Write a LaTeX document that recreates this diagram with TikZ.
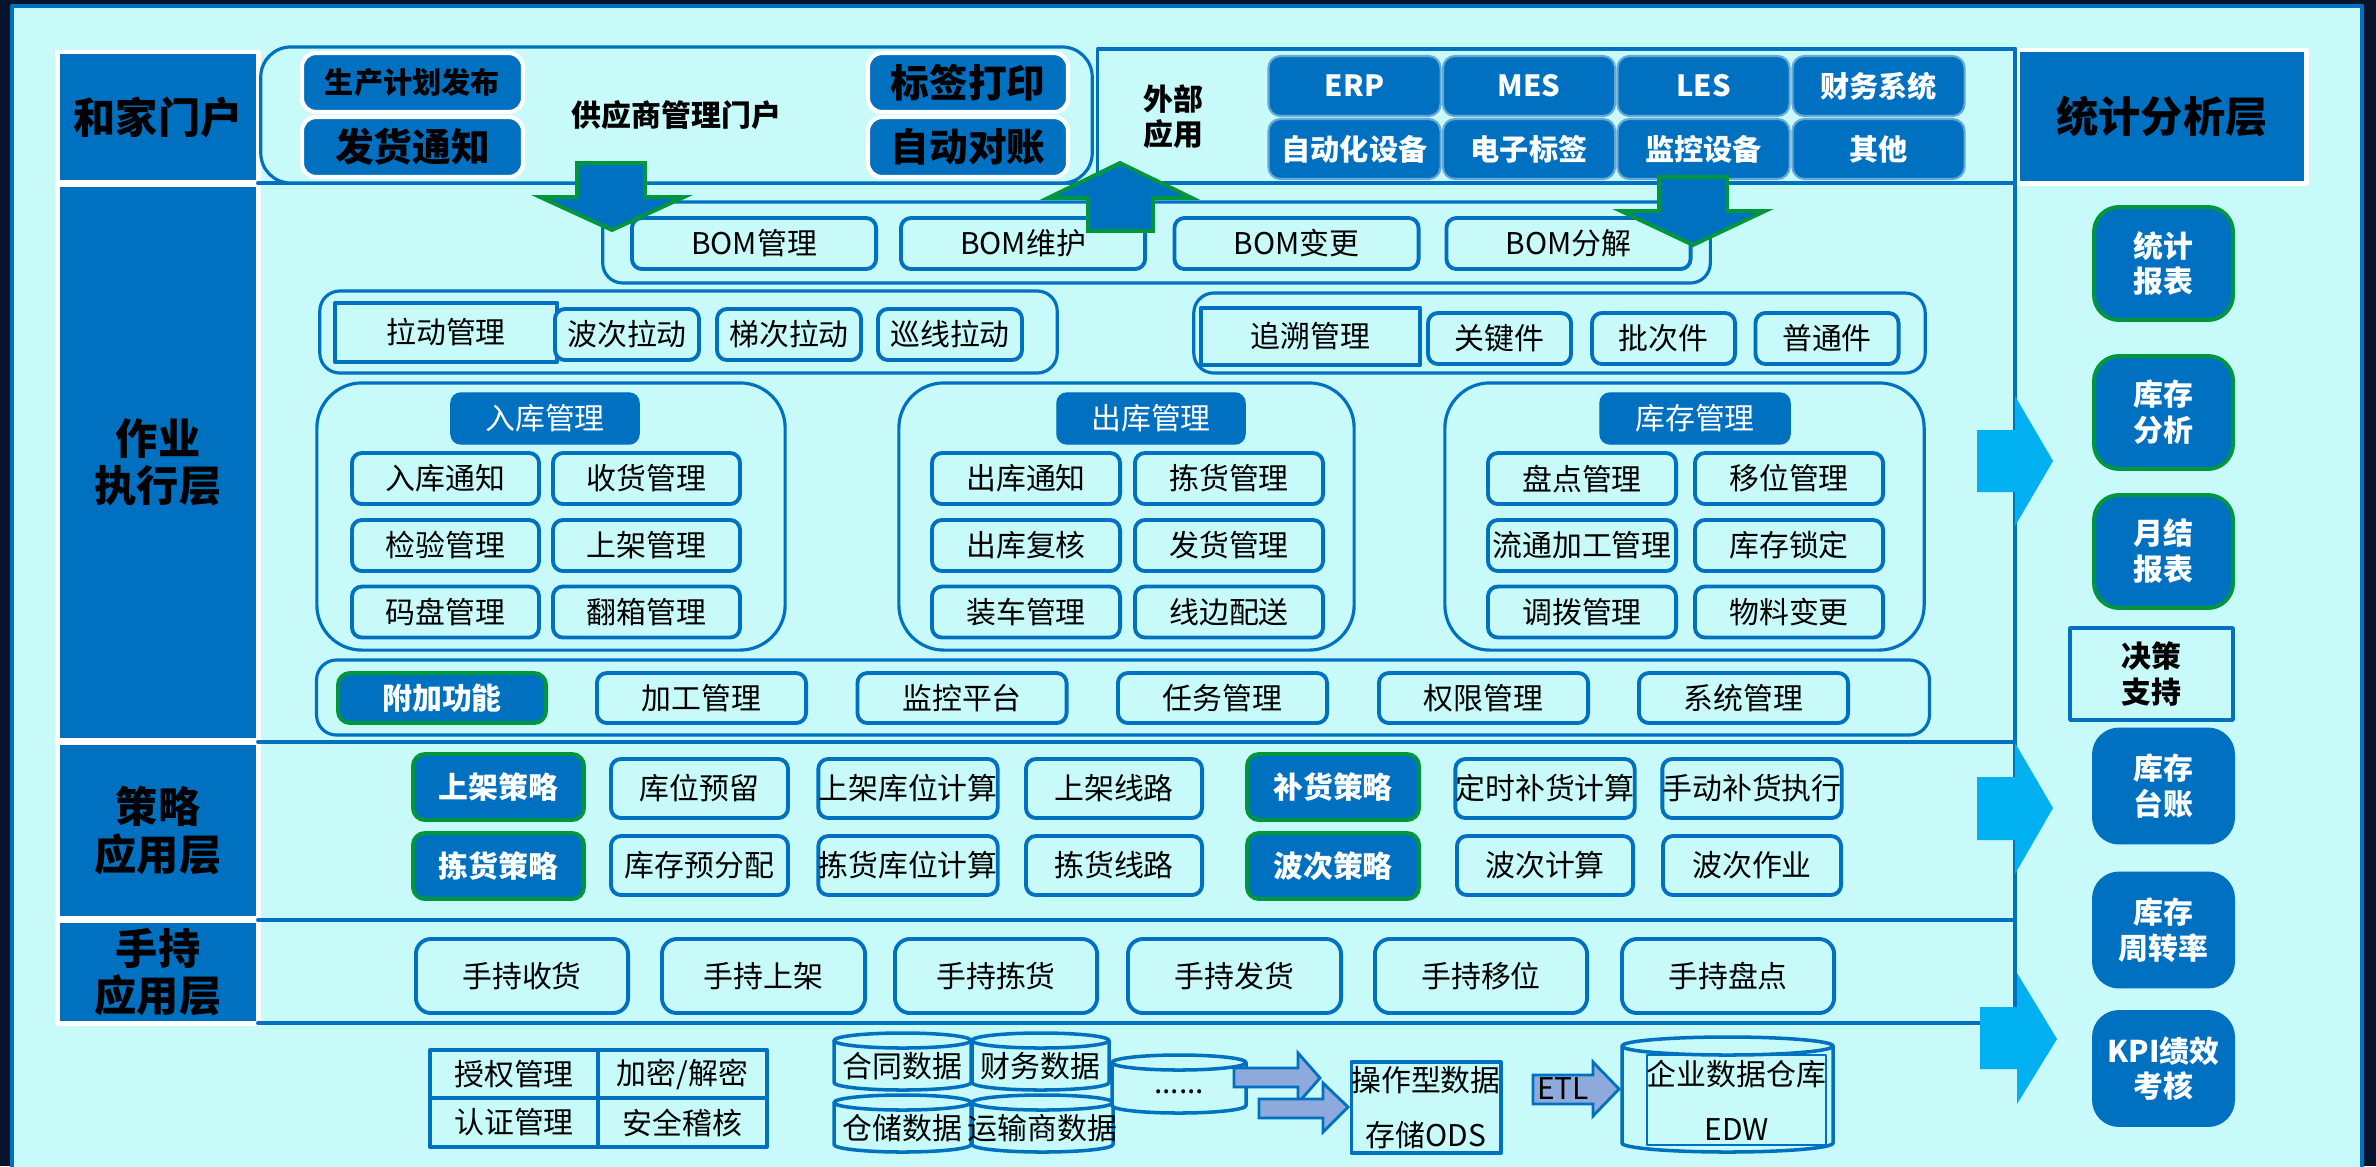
\documentclass[tikz,border=0pt]{standalone}
\usepackage{fontspec}
\setmainfont{Noto Sans CJK SC}
\usepackage{tikz}
\usetikzlibrary{arrows.meta}
\definecolor{panelcyan}{RGB}{200,250,250}
\definecolor{deepblue}{RGB}{0,112,192}
\definecolor{leafgreen}{RGB}{0,150,60}
\definecolor{skyblue}{RGB}{0,176,240}
\definecolor{lilac}{RGB}{142,170,220}
\definecolor{nightbg}{RGB}{8,20,44}

\begin{document}
\begin{tikzpicture}[line cap=round,line join=round,x=0.01cm,y=-0.01cm,
    layerbox/.style={fill=deepblue,draw=white,line width=1.4pt,inner sep=0pt,align=center,font=\fontsize{12}{13.4}\selectfont\bfseries},
    portbtn/.style={fill=deepblue,draw=white,line width=1.2pt,rounded corners=0.14cm,inner sep=0pt},
    extbtn/.style={fill=deepblue,draw=deepblue!60!white,line width=0.6pt,rounded corners=0.12cm,inner sep=0pt,minimum width=1.72cm,minimum height=0.6cm,text=white,font=\fontsize{8.3}{10}\selectfont\bfseries},
    grpbox/.style={draw=deepblue,line width=0.9pt,fill=panelcyan,inner sep=0pt},
    itembox/.style={draw=deepblue,line width=1.1pt,fill=panelcyan,rounded corners=0.1cm,inner sep=0pt,font=\fontsize{8.5}{10}\selectfont},
    hdrbox/.style={fill=deepblue,draw=deepblue,rounded corners=0.1cm,inner sep=0pt,minimum height=0.51cm,text=white,font=\fontsize{8.5}{10}\selectfont},
    keybox/.style={fill=deepblue,draw=leafgreen,line width=1.1pt,rounded corners=0.12cm,inner sep=0pt,text=white,font=\fontsize{8.5}{10}\selectfont\bfseries},
    rptbox/.style={fill=deepblue,line width=1.1pt,rounded corners=0.25cm,inner sep=0pt,align=center,minimum width=1.39cm,minimum height=1.13cm,text=white,font=\fontsize{8.5}{10.2}\selectfont\bfseries},
    secbox/.style={draw=deepblue,line width=1.1pt,fill=panelcyan,inner sep=0pt,font=\fontsize{8.5}{10}\selectfont},
    sepline/.style={draw=deepblue,line width=1.1pt},
    greenarrow/.style={fill=deepblue,draw=leafgreen,line width=1.1pt,line join=miter},
    cylbody/.style={draw=deepblue,line width=1pt,fill=panelcyan},
    flowarrow/.style={fill=lilac,draw=deepblue,line width=0.8pt,line join=miter}]
    \useasboundingbox (0,0) rectangle (2376,1166);
    \fill [nightbg] (0,0) rectangle (2376,1166);
    \draw [draw=deepblue,line width=1.2pt,fill=panelcyan] (12,6) rectangle (2362,1180);
    % layers
    \node[layerbox,minimum width=2cm,minimum height=1.3cm] (homeportal) at (158,117) {和家门户};
    \node[layerbox,minimum width=2cm,minimum height=5.55cm] (execlayer) at (158,462.5) {作业\\执行层};
    \node[layerbox,minimum width=2cm,minimum height=1.75cm] (stratlayer) at (158,830.5) {策略\\应用层};
    \node[layerbox,minimum width=2cm,minimum height=1.02cm] (handlayer) at (158,972) {手持\\应用层};
    \node[layerbox,minimum width=2.88cm,minimum height=1.33cm] (statlayer) at (2162,116.5) {统计分析层};
    \draw [sepline] (258,183) -- (2015,183);
    \draw [sepline] (258,742) -- (2015,742);
    \draw [sepline] (258,920) -- (2015,920);
    \draw [sepline] (258,1023) -- (2015,1023);
    \draw [sepline] (2015,49) -- (2015,1023);
    % portal row
    \node[grpbox,rounded corners=0.3cm,minimum width=8.31cm,minimum height=1.36cm,font=\fontsize{8.5}{10}\selectfont\bfseries] (supplier) at (676.5,115) {供应商管理门户};
    \node[portbtn,minimum width=2.21cm,minimum height=0.59cm,font=\fontsize{8.3}{10}\selectfont\bfseries] (planpub) at (412.5,82.5) {生产计划发布};
    \node[portbtn,minimum width=2.21cm,minimum height=0.6cm,font=\fontsize{11}{12}\selectfont\bfseries] (shipnote) at (412.5,147) {发货通知};
    \node[portbtn,minimum width=2cm,minimum height=0.59cm,font=\fontsize{11}{12}\selectfont\bfseries] (labelprint) at (968,82.5) {标签打印};
    \node[portbtn,minimum width=2cm,minimum height=0.6cm,font=\fontsize{11}{12}\selectfont\bfseries] (autorecon) at (968,147) {自动对账};
    \node[draw=deepblue,line width=0.9pt,minimum width=9.17cm,minimum height=1.34cm,inner sep=0pt] (extsys) at (1556.5,116) {};
    \node[align=center,font=\fontsize{8.5}{10}\selectfont\bfseries] (extlbl) at (1173,117) {外部\\应用};
    \node[extbtn] (erp) at (1354.5,86) {ERP};
    \node[extbtn] (mes) at (1529,86) {MES};
    \node[extbtn] (les) at (1703.5,86) {LES};
    \node[extbtn] (finsys) at (1878.5,86) {财务系统};
    \node[extbtn] (autodev) at (1354.5,149) {自动化设备};
    \node[extbtn] (elabel) at (1529,149) {电子标签};
    \node[extbtn] (monidev) at (1703.5,149) {监控设备};
    \node[extbtn] (others) at (1878.5,149) {其他};
    % BOM
    \node[grpbox,rounded corners=0.2cm,minimum width=11.07cm,minimum height=0.81cm] (bomgrp) at (1156.5,242.5) {};
    \node[itembox,minimum width=2.44cm,minimum height=0.51cm] (bommgmt) at (754,243.5) {BOM管理};
    \node[itembox,minimum width=2.44cm,minimum height=0.51cm] (bomkeep) at (1023,243.5) {BOM维护};
    \node[itembox,minimum width=2.44cm,minimum height=0.51cm] (bomchange) at (1296.5,243.5) {BOM变更};
    \node[itembox,minimum width=2.44cm,minimum height=0.51cm] (bomsplit) at (1568.5,243.5) {BOM分解};
    % pull and trace
    \node[grpbox,rounded corners=0.2cm,minimum width=7.37cm,minimum height=0.82cm] (pullgrp) at (688.5,332) {};
    \node[itembox,rounded corners=0pt,minimum width=2.22cm,minimum height=0.59cm] (pullmgmt) at (446,332.5) {拉动管理};
    \node[itembox,minimum width=1.44cm,minimum height=0.51cm] (wavepull) at (627,334.5) {波次拉动};
    \node[itembox,minimum width=1.44cm,minimum height=0.51cm] (steppull) at (789,334.5) {梯次拉动};
    \node[itembox,minimum width=1.44cm,minimum height=0.51cm] (routepull) at (950,334.5) {巡线拉动};
    \node[grpbox,rounded corners=0.2cm,minimum width=7.31cm,minimum height=0.8cm] (tracegrp) at (1559.5,333) {};
    \node[itembox,rounded corners=0pt,minimum width=2.19cm,minimum height=0.57cm] (tracemgmt) at (1310.5,336.5) {追溯管理};
    \node[itembox,minimum width=1.43cm,minimum height=0.51cm] (keypart) at (1499.5,338.5) {关键件};
    \node[itembox,minimum width=1.43cm,minimum height=0.51cm] (batchpart) at (1663.5,338.5) {批次件};
    \node[itembox,minimum width=1.43cm,minimum height=0.51cm] (commonpart) at (1827,338.5) {普通件};
    % inbound, outbound, stock
    \node[grpbox,rounded corners=0.45cm,minimum width=4.68cm,minimum height=2.67cm] (ingrp) at (551,516.5) {};
    \node[grpbox,rounded corners=0.45cm,minimum width=4.55cm,minimum height=2.67cm] (outgrp) at (1126.5,516.5) {};
    \node[grpbox,rounded corners=0.45cm,minimum width=4.79cm,minimum height=2.67cm] (stockgrp) at (1684.5,516.5) {};
    \node[hdrbox,minimum width=1.88cm] (inhdr) at (545,418.5) {入库管理};
    \node[hdrbox,minimum width=1.88cm] (outhdr) at (1151,418.5) {出库管理};
    \node[hdrbox,minimum width=1.9cm] (stockhdr) at (1695,418.5) {库存管理};
    \node[itembox,minimum width=1.87cm,minimum height=0.51cm] (innote) at (445.5,478.5) {入库通知};
    \node[itembox,minimum width=1.87cm,minimum height=0.51cm] (receive) at (646.5,478.5) {收货管理};
    \node[itembox,minimum width=1.87cm,minimum height=0.51cm] (inspect) at (445.5,545.5) {检验管理};
    \node[itembox,minimum width=1.87cm,minimum height=0.51cm] (putaway) at (646.5,545.5) {上架管理};
    \node[itembox,minimum width=1.87cm,minimum height=0.51cm] (pallet) at (445.5,612) {码盘管理};
    \node[itembox,minimum width=1.87cm,minimum height=0.51cm] (rebox) at (646.5,612) {翻箱管理};
    \node[itembox,minimum width=1.88cm,minimum height=0.51cm] (outnote) at (1026,478.5) {出库通知};
    \node[itembox,minimum width=1.88cm,minimum height=0.51cm] (picking) at (1229,478.5) {拣货管理};
    \node[itembox,minimum width=1.88cm,minimum height=0.51cm] (recheck) at (1026,545.5) {出库复核};
    \node[itembox,minimum width=1.88cm,minimum height=0.51cm] (shipping) at (1229,545.5) {发货管理};
    \node[itembox,minimum width=1.88cm,minimum height=0.51cm] (loading) at (1026,612) {装车管理};
    \node[itembox,minimum width=1.88cm,minimum height=0.51cm] (lineside) at (1229,612) {线边配送};
    \node[itembox,minimum width=1.88cm,minimum height=0.51cm] (counting) at (1582,478.5) {盘点管理};
    \node[itembox,minimum width=1.88cm,minimum height=0.51cm] (moving) at (1789,478.5) {移位管理};
    \node[itembox,minimum width=1.88cm,minimum height=0.51cm] (processing) at (1582,545.5) {流通加工管理};
    \node[itembox,minimum width=1.88cm,minimum height=0.51cm] (stocklock) at (1789,545.5) {库存锁定};
    \node[itembox,minimum width=1.88cm,minimum height=0.51cm] (transfer) at (1582,612) {调拨管理};
    \node[itembox,minimum width=1.88cm,minimum height=0.51cm] (matchange) at (1789,612) {物料变更};
    % extra functions
    \node[grpbox,rounded corners=0.2cm,minimum width=16.12cm,minimum height=0.75cm] (extragrp) at (1123,697.5) {};
    \node[keybox,minimum width=2.08cm,minimum height=0.5cm] (extrafn) at (442,698) {附加功能};
    \node[itembox,minimum width=2.09cm,minimum height=0.5cm] (procmgmt) at (701.5,698) {加工管理};
    \node[itembox,minimum width=2.09cm,minimum height=0.5cm] (monitor) at (962,698) {监控平台};
    \node[itembox,minimum width=2.09cm,minimum height=0.5cm] (taskmgmt) at (1222.5,698) {任务管理};
    \node[itembox,minimum width=2.09cm,minimum height=0.5cm] (rightmgmt) at (1483.5,698) {权限管理};
    \node[itembox,minimum width=2.09cm,minimum height=0.5cm] (sysmgmt) at (1743.5,698) {系统管理};
    % strategies
    \node[keybox,minimum width=1.71cm,minimum height=0.66cm] (putstrat) at (498.5,787) {上架策略};
    \node[keybox,minimum width=1.71cm,minimum height=0.66cm] (pickstrat) at (498.5,866) {拣货策略};
    \node[keybox,minimum width=1.72cm,minimum height=0.66cm] (fillstrat) at (1333,787) {补货策略};
    \node[keybox,minimum width=1.72cm,minimum height=0.66cm] (wavestrat) at (1333,866) {波次策略};
    \node[itembox,minimum width=1.77cm,minimum height=0.59cm] (reserve) at (699.5,788.5) {库位预留};
    \node[itembox,minimum width=1.78cm,minimum height=0.59cm] (putcalc) at (908,788.5) {上架库位计算};
    \node[itembox,minimum width=1.76cm,minimum height=0.59cm] (putroute) at (1114,788.5) {上架线路};
    \node[itembox,minimum width=1.76cm,minimum height=0.59cm] (timedfill) at (1545,788.5) {定时补货计算};
    \node[itembox,minimum width=1.78cm,minimum height=0.59cm] (manualfill) at (1752,788.5) {手动补货执行};
    \node[itembox,minimum width=1.77cm,minimum height=0.59cm] (prealloc) at (699.5,865.5) {库存预分配};
    \node[itembox,minimum width=1.78cm,minimum height=0.59cm] (pickcalc) at (908,865.5) {拣货库位计算};
    \node[itembox,minimum width=1.76cm,minimum height=0.59cm] (pickroute) at (1114,865.5) {拣货线路};
    \node[itembox,minimum width=1.76cm,minimum height=0.59cm] (wavecalc) at (1545,865.5) {波次计算};
    \node[itembox,minimum width=1.78cm,minimum height=0.59cm] (wavejob) at (1752,865.5) {波次作业};
    % handheld
    \node[itembox,rounded corners=0.15cm,minimum width=2.12cm,minimum height=0.74cm] (hhreceive) at (522,976) {手持收货};
    \node[itembox,rounded corners=0.15cm,minimum width=2.03cm,minimum height=0.74cm] (hhputaway) at (763.5,976) {手持上架};
    \node[itembox,rounded corners=0.15cm,minimum width=2.02cm,minimum height=0.74cm] (hhpick) at (996,976) {手持拣货};
    \node[itembox,rounded corners=0.15cm,minimum width=2.13cm,minimum height=0.74cm] (hhship) at (1234.5,976) {手持发货};
    \node[itembox,rounded corners=0.15cm,minimum width=2.12cm,minimum height=0.74cm] (hhmove) at (1481,976) {手持移位};
    \node[itembox,rounded corners=0.15cm,minimum width=2.12cm,minimum height=0.74cm] (hhcount) at (1728,976) {手持盘点};
    % statistics column
    \node[rptbox,draw=leafgreen] (statrpt) at (2163.5,263.5) {统计\\报表};
    \node[rptbox,draw=leafgreen] (stockana) at (2163.5,412.5) {库存\\分析};
    \node[rptbox,draw=leafgreen] (monthrpt) at (2163.5,551.5) {月结\\报表};
    \node[draw=deepblue,line width=1pt,fill=panelcyan,inner sep=0pt,minimum width=1.63cm,minimum height=0.92cm,align=center,font=\fontsize{8.5}{10.2}\selectfont\bfseries] (decision) at (2151.5,674) {决策\\支持};
    \node[rptbox,draw=deepblue] (ledger) at (2163.5,786) {库存\\台账};
    \node[rptbox,draw=deepblue] (turnover) at (2163.5,930) {库存\\周转率};
    \node[rptbox,draw=deepblue] (kpi) at (2163.5,1068.5) {KPI绩效\\考核};
    \fill [skyblue] (1977,430) -- (2015,430) -- (2015,396) -- (2053,461) -- (2015,526) -- (2015,492) -- (1977,492) -- cycle;
    \fill [skyblue] (1977,777) -- (2015,777) -- (2015,743) -- (2053,808) -- (2015,874) -- (2015,840) -- (1977,840) -- cycle;
    \fill [skyblue] (1980,1007) -- (2017,1007) -- (2017,973) -- (2057,1039) -- (2017,1104) -- (2017,1069) -- (1980,1069) -- cycle;
    % big arrows between portal and BOM
    \draw [greenarrow] (577,163) -- (645,163) -- (645,197) -- (684,197) -- (612,230) -- (540,197) -- (577,197) -- cycle;
    \draw [greenarrow] (1120,163) -- (1192,198) -- (1153,198) -- (1153,231) -- (1088,231) -- (1088,198) -- (1048,198) -- cycle;
    \draw [greenarrow] (1659,177) -- (1727,177) -- (1727,211) -- (1765,211) -- (1693,245) -- (1621,211) -- (1659,211) -- cycle;
    % security
    \node[secbox,minimum width=1.68cm,minimum height=0.48cm] (authorize) at (514,1074) {授权管理};
    \node[secbox,minimum width=1.69cm,minimum height=0.48cm] (crypto) at (682.5,1074) {加密/解密};
    \node[secbox,minimum width=1.68cm,minimum height=0.49cm] (authen) at (514,1122.5) {认证管理};
    \node[secbox,minimum width=1.69cm,minimum height=0.49cm] (audit) at (682.5,1122.5) {安全稽核};
    % data sources
    \draw [cylbody] (834,1040.5) -- (834,1082.5) arc [start angle=180,end angle=0,x radius=68.5,y radius=7.5] -- (971,1040.5) -- cycle;
    \draw [cylbody] (902.5,1040.5) ellipse [x radius=68.5,y radius=7.5];
    \draw [cylbody] (972,1040.5) -- (972,1082.5) arc [start angle=180,end angle=0,x radius=68.5,y radius=7.5] -- (1109,1040.5) -- cycle;
    \draw [cylbody] (1040.5,1040.5) ellipse [x radius=68.5,y radius=7.5];
    \draw [cylbody] (834,1102.5) -- (834,1144.5) arc [start angle=180,end angle=0,x radius=68.5,y radius=7.5] -- (971,1102.5) -- cycle;
    \draw [cylbody] (902.5,1102.5) ellipse [x radius=68.5,y radius=7.5];
    \draw [cylbody] (972,1102.5) -- (972,1144.5) arc [start angle=180,end angle=0,x radius=70.5,y radius=7.5] -- (1113,1102.5) -- cycle;
    \draw [cylbody] (1042.5,1102.5) ellipse [x radius=70.5,y radius=7.5];
    \draw [cylbody] (1112,1062.5) -- (1112,1105.5) arc [start angle=180,end angle=0,x radius=67,y radius=7.5] -- (1246,1062.5) -- cycle;
    \draw [cylbody] (1179,1062.5) ellipse [x radius=67,y radius=7.5];
    \node[font=\fontsize{8.5}{10}\selectfont] (contract) at (902.5,1066) {合同数据};
    \node[font=\fontsize{8.5}{10}\selectfont] (finance) at (1040.5,1066) {财务数据};
    \node[font=\fontsize{8.5}{10}\selectfont] (storage) at (902.5,1128) {仓储数据};
    \node[font=\fontsize{8.5}{10}\selectfont] (carrier) at (1042.5,1128) {运输商数据};
    \node[font=\fontsize{8.5}{10}\selectfont] (moredata) at (1179,1092) {......};
    \draw [flowarrow] (1234,1068) -- (1298,1068) -- (1298,1053) -- (1320,1078) -- (1298,1103) -- (1298,1087) -- (1234,1087) -- cycle;
    \draw [flowarrow] (1259,1099) -- (1323,1099) -- (1323,1083) -- (1348,1107) -- (1323,1132) -- (1323,1118) -- (1259,1118) -- cycle;
    \node[draw=deepblue,line width=1pt,fill=panelcyan,inner sep=0pt,minimum width=1.48cm,minimum height=0.91cm,align=center,font=\fontsize{8.5}{15.6}\selectfont] (odsstore) at (1426,1107.5) {操作型数据\\存储ODS};
    \draw [flowarrow] (1533,1075) -- (1593,1075) -- (1593,1062) -- (1619,1089) -- (1593,1116) -- (1593,1104) -- (1533,1104) -- cycle;
    \node[font=\fontsize{8.5}{10}\selectfont] (etl) at (1563,1089) {ETL};
    \draw [cylbody] (1622,1046) -- (1622,1143) arc [start angle=180,end angle=0,x radius=105.5,y radius=9] -- (1833,1046) -- cycle;
    \draw [cylbody] (1727.5,1046) ellipse [x radius=105.5,y radius=9];
    \node[draw=deepblue,line width=0.6pt,inner sep=0pt,minimum width=1.79cm,minimum height=0.9cm,align=center,font=\fontsize{8.5}{15.6}\selectfont] (edw) at (1736.5,1100) {企业数据仓库\\EDW};
\end{tikzpicture}
\end{document}
